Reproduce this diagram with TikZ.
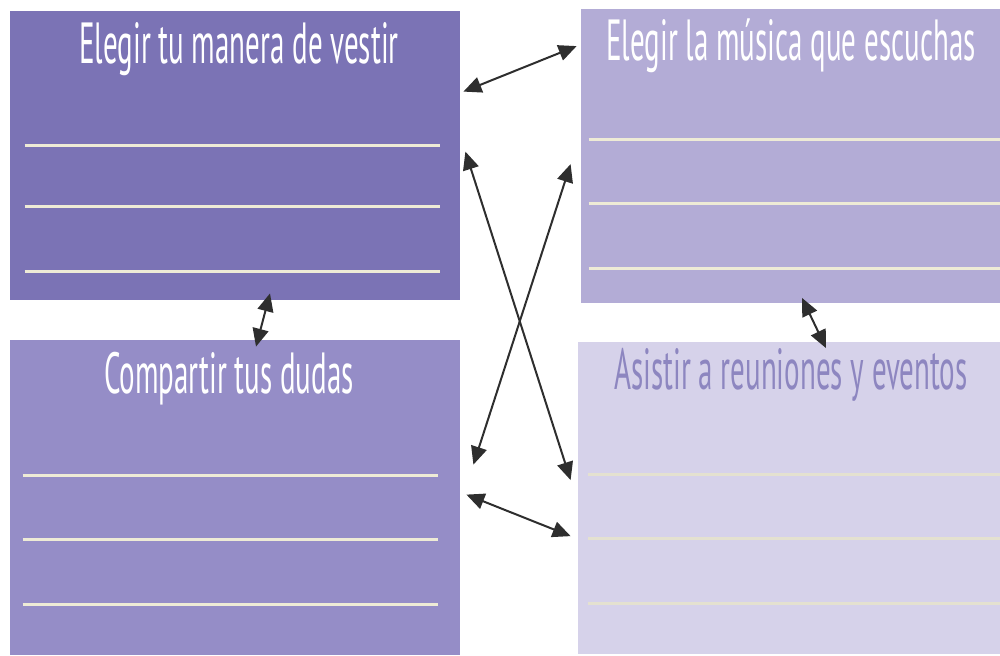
\documentclass[tikz,border=0pt]{standalone}
\usepackage{fontspec}
\newfontfamily\titlefont[FakeStretch=0.5]{PT Sans}
\usetikzlibrary{positioning, arrows.meta}
\definecolor{vestir}{HTML}{7B73B5}
\definecolor{musica}{HTML}{B3ACD6}
\definecolor{dudas}{HTML}{958DC7}
\definecolor{eventos}{HTML}{D6D2EA}
\definecolor{eventostext}{HTML}{8D86C0}
\definecolor{cream}{HTML}{EEEBD6}
\definecolor{palecream}{HTML}{E4E1D0}
\definecolor{arrowgray}{HTML}{2E2E2E}
\tikzset{
>={Triangle[length=9pt,width=8pt]}, % filled triangle heads
card/.style={rectangle, inner sep=0pt}, % the four coloured panels
title/.style={anchor=base, text=white, font=\titlefont\fontsize{29}{33}\selectfont}, % panel headings
rule/.style={line width=1.5pt, draw=cream}, % writing lines inside a panel
link/.style={<->, draw=arrowgray, fill=arrowgray, line width=1pt}, % double headed connectors
}

\begin{document}
\begin{tikzpicture}
    \useasboundingbox (0,0) rectangle (500pt,-327.5pt);
    \node[card, fill=vestir, minimum width=225pt, minimum height=144.5pt] (A) at (117.5pt,-77.75pt) {};
    \node[card, fill=musica, minimum width=210pt, minimum height=147pt, node distance=278pt, right of=A] (B) {};
    \node[card, fill=dudas, minimum width=225pt, minimum height=157.5pt, node distance=171pt, below of=A] (C) {};
    \node[card, fill=eventos, minimum width=213pt, minimum height=156pt, node distance=278pt, right of=C] (D) {};

    \node[title] (tA) at ([xshift=2pt,yshift=-26.5pt]A.north) {Elegir tu manera de vestir};
    \node[title] (tB) at ([yshift=-26pt]B.north) {Elegir la música que escuchas};
    \node[title] (tC) at ([xshift=-3pt,yshift=-27pt]C.north) {Compartir tus dudas};
    \node[title, text=eventostext] (tD) at ([yshift=-24pt]D.north) {Asistir a reuniones y eventos};

    \draw[rule]
    ([xshift=7.5pt,yshift=-67.5pt]A.north west) -- ([xshift=-10pt,yshift=-67.5pt]A.north east)
    ([xshift=7.5pt,yshift=-98pt]A.north west) -- ([xshift=-10pt,yshift=-98pt]A.north east)
    ([xshift=7.5pt,yshift=-130.5pt]A.north west) -- ([xshift=-10pt,yshift=-130.5pt]A.north east);
    \draw[rule]
    ([xshift=4pt,yshift=-65.5pt]B.north west) -- ([yshift=-65.5pt]B.north east)
    ([xshift=4pt,yshift=-97.5pt]B.north west) -- ([yshift=-97.5pt]B.north east)
    ([xshift=4pt,yshift=-130pt]B.north west) -- ([yshift=-130pt]B.north east);
    \draw[rule]
    ([xshift=6.5pt,yshift=-68pt]C.north west) -- ([xshift=-11pt,yshift=-68pt]C.north east)
    ([xshift=6.5pt,yshift=-100pt]C.north west) -- ([xshift=-11pt,yshift=-100pt]C.north east)
    ([xshift=6.5pt,yshift=-132.5pt]C.north west) -- ([xshift=-11pt,yshift=-132.5pt]C.north east);
    \draw[rule, draw=palecream]
    ([xshift=5pt,yshift=-66.5pt]D.north west) -- ([yshift=-66.5pt]D.north east)
    ([xshift=5pt,yshift=-98.5pt]D.north west) -- ([yshift=-98.5pt]D.north east)
    ([xshift=5pt,yshift=-131pt]D.north west) -- ([yshift=-131pt]D.north east);

    \draw[link] ([xshift=1.5pt,yshift=-40.5pt]A.north east) -- ([xshift=-2pt,yshift=-19pt]B.north west);
    \draw[link] ([xshift=17.5pt,yshift=3.5pt]A.south) -- ([xshift=10.5pt,yshift=-3.5pt]C.north);
    \draw[link] ([xshift=5.5pt,yshift=2.5pt]B.south) -- ([xshift=17.5pt,yshift=-3.5pt]D.north);
    \draw[link] ([xshift=2.5pt,yshift=-70.5pt]A.north east) -- ([xshift=-3.5pt,yshift=-69.5pt]D.north west);
    \draw[link] ([xshift=-5pt,yshift=-78pt]B.north west) -- ([xshift=6.5pt,yshift=-62.5pt]C.north east);
    \draw[link] ([xshift=3pt,yshift=-77.5pt]C.north east) -- ([xshift=-3.5pt,yshift=-97.5pt]D.north west);
\end{tikzpicture}
\end{document}
